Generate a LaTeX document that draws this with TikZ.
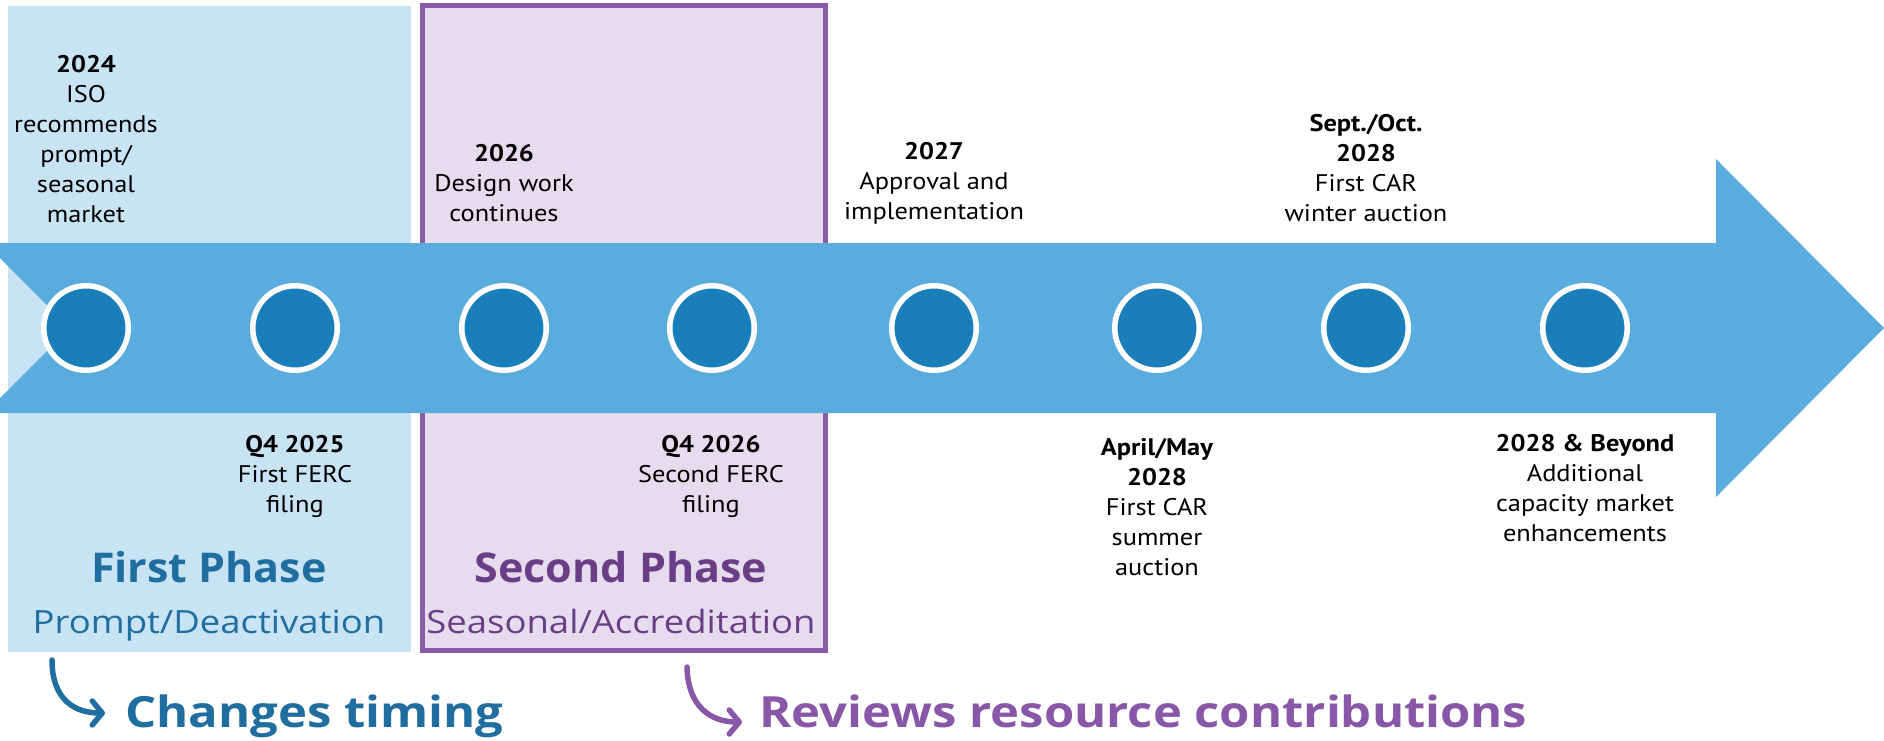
\documentclass[tikz,border=0pt]{standalone}
\usepackage{fontspec}
\setmainfont{PT Sans}[FakeStretch=1.1]
\newfontfamily\bigfont{Open Sans}[FakeStretch=1.05]
\newfontfamily\subfont{Open Sans}[FakeStretch=1.14]
\newfontfamily\capfont{Open Sans}[FakeStretch=1.14]
\usetikzlibrary{arrows.meta}
\definecolor{lightbox}{HTML}{C7E3F4}
\definecolor{arrowblue}{HTML}{5BACDE}
\definecolor{circdark}{HTML}{1A7EBA}
\definecolor{purplefill}{HTML}{E7DBEE}
\definecolor{purpleline}{HTML}{8A5CA8}
\definecolor{phaseblue}{HTML}{1F6E9F}
\definecolor{phasepurple}{HTML}{6A3E87}
\definecolor{reviewpurple}{HTML}{8857A7}
\tikzset{
  lbl/.style={align=center, inner sep=0pt, text=black, font=\fontsize{24}{30}\selectfont},
  dot/.style={circle, draw=white, line width=5.5pt, fill=circdark, minimum size=84.5pt, inner sep=0pt},
  phasetitle/.style={inner sep=0pt, anchor=base, font=\bigfont\fontsize{41}{50}\selectfont\bfseries},
  phasesub/.style={inner sep=0pt, anchor=base, font=\subfont\fontsize{32}{40}\selectfont},
  bigtext/.style={inner sep=0pt, anchor=base west, font=\capfont\fontsize{43}{52}\selectfont\bfseries},
  curvearrow/.style={line width=5.5pt, line cap=round, -{Straight Barb[round,length=10pt,width=24pt]}}
}
\begin{document}
\begin{tikzpicture}[x=1pt,y=-1pt]
\useasboundingbox (0,0) rectangle (1884,741);
% phase boxes
\fill[lightbox] (8,6) rectangle (411,652);
\draw[purpleline, fill=purplefill, line width=5pt] (422,6) rectangle (825.5,650.5);
% main arrow
\fill[arrowblue] (0,243) -- (1716,243) -- (1716,159) -- (1884,328) -- (1716,497)
  -- (1716,413) -- (0,413) -- (0,398) -- (70,328) -- (0,258) -- cycle;
% milestones
\foreach \i/\x in {1/86,2/295,3/504,4/712,5/934,6/1157,7/1366,8/1585}
  \node[dot] (c\i) at (\x,328) {};
% upper labels
\node[lbl] (t1) at (86,139) {\textbf{2024}\\ISO\\recommends\\prompt/\\seasonal\\market};
\node[lbl] (t3) at (504,183) {\textbf{2026}\\Design work\\continues};
\node[lbl] (t5) at (934,183) {\textbf{2027}\\Approval and\\implementation};
\node[lbl] (t7) at (1366,168) {\textbf{Sept./Oct.}\\\textbf{2028}\\First CAR\\winter auction};
% lower labels
\node[lbl] (b2) at (295,476) {\textbf{Q4 2025}\\First FERC\\filing};
\node[lbl] (b4) at (711,476) {\textbf{Q4 2026}\\Second FERC\\filing};
\node[lbl] (b6) at (1157,507) {\textbf{April/May}\\\textbf{2028}\\First CAR\\summer\\auction};
\node[lbl] (b8) at (1585,488) {\textbf{2028 \& Beyond}\\Additional\\capacity market\\enhancements};
% phase titles
\node[phasetitle, text=phaseblue] (p1) at (209,582) {First Phase};
\node[phasesub, text=phaseblue] (p1s) at (209,633) {Prompt/Deactivation};
\node[phasetitle, text=phasepurple] (p2) at (621,582) {Second Phase};
\node[phasesub, text=phasepurple] (p2s) at (621,633) {Seasonal/Accreditation};
% bottom captions
\node[bigtext, text=phaseblue] (cap1) at (125,727) {Changes timing};
\node[bigtext, text=reviewpurple] (cap2) at (759,727) {Reviews resource contributions};
\coordinate (a1s) at (52,660);
\coordinate (a1e) at (105,713);
\coordinate (a2s) at (687,667);
\coordinate (a2e) at (742,722);
\draw[curvearrow, phaseblue] (a1s) .. controls (52,700) and (75,713) .. (a1e);
\draw[curvearrow, reviewpurple] (a2s) .. controls (688,708) and (712,722) .. (a2e);
\end{tikzpicture}
\end{document}
